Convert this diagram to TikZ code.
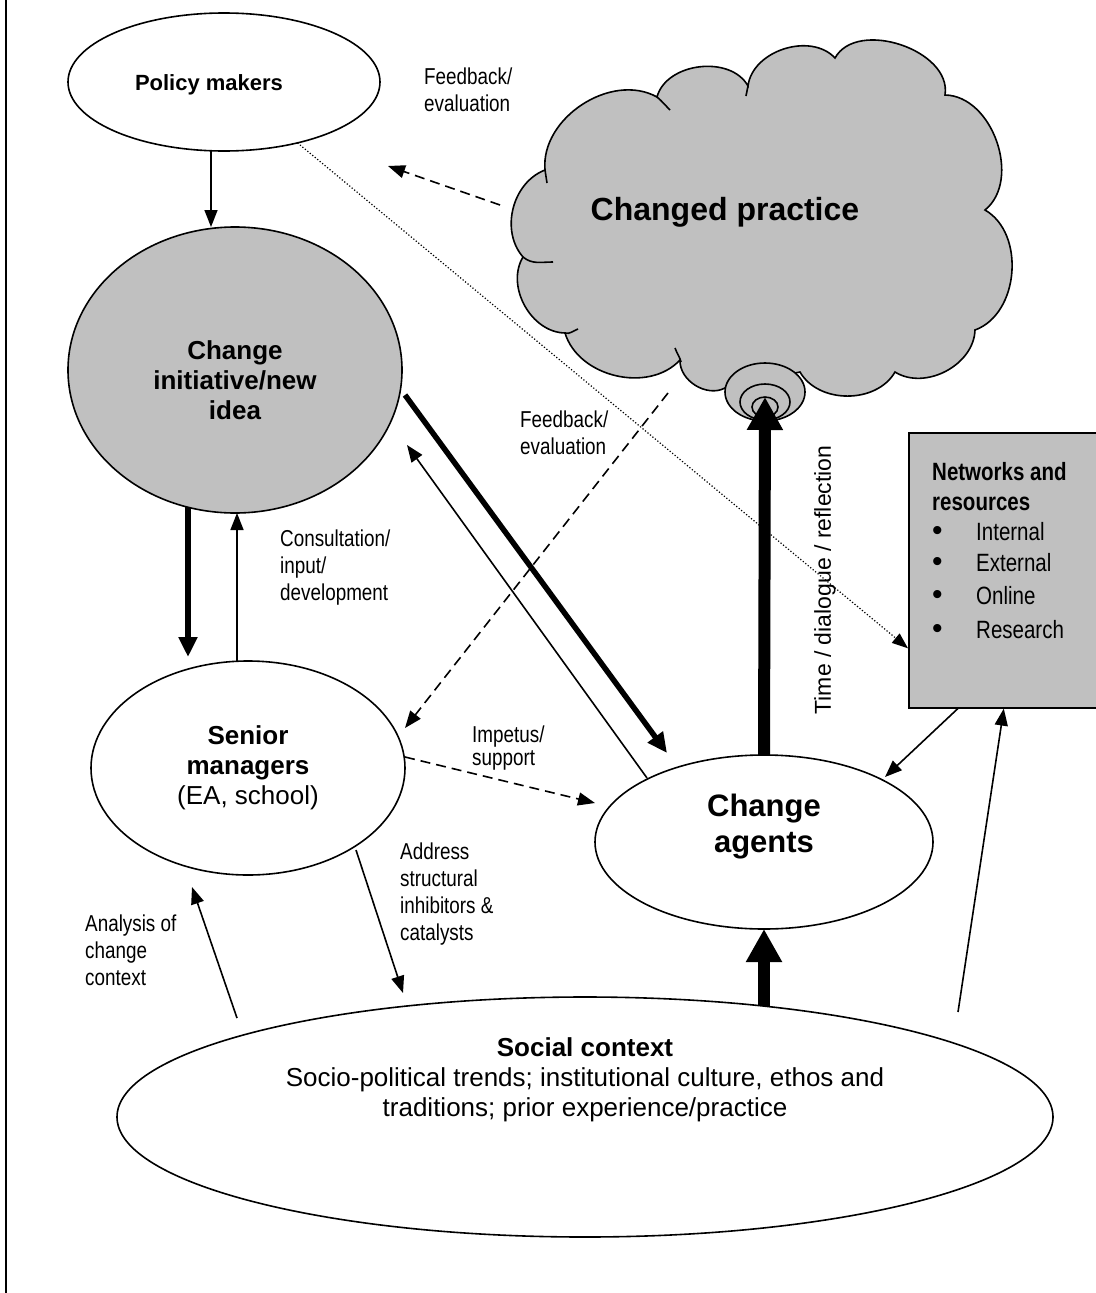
\documentclass[tikz,border=0pt]{standalone}
\usepackage{fontspec}
\setmainfont{Liberation Sans}
\newfontfamily\narrowfont[FakeStretch=0.82]{Liberation Sans}
\usetikzlibrary{shapes.geometric,arrows.meta,positioning}
\definecolor{shade}{RGB}{192,192,192}
\newcommand{\netitem}[1]{\makebox[44pt][l]{\normalfont\fontsize{30}{30}\selectfont\textbullet}#1}

\begin{document}
\begin{tikzpicture}[
x=1pt, y=-1pt,
oval/.style={draw, ellipse, line width=1.6pt, inner sep=0pt, outer sep=0pt},
bigtext/.style={font=\fontsize{26}{30}\selectfont\bfseries, align=center},
note/.style={font=\narrowfont\fontsize{23}{27}\selectfont, align=left, anchor=west, inner sep=0pt},
flow/.style={line width=1.6pt, -{Triangle[length=17pt,width=13pt]}},
heavy/.style={line width=5.5pt, -{Triangle[length=20pt,width=18pt]}},
fat/.style={line width=12pt, -{Triangle[length=33pt,width=34pt]}},
fb/.style={flow, dash pattern=on 10pt off 6pt},
link/.style={line width=1.2pt, dotted, -{Triangle[length=16pt,width=12pt]}}
]
\useasboundingbox (0,0) rectangle (1095,1293);
\draw[line width=2.8pt] (6,0) -- (6,1293);

% cloud
\filldraw[fill=shade, line width=1.6pt]
  (523,257) to[out=131,in=201] (545,170)
  to[out=95,in=151] (657,97)
  to[out=75,in=119] (748,86)
  to[out=83,in=133] (835,58)
  to[out=61,in=81] (945,95)
  to[out=-1,in=39] (985,210)
  to[out=-30,in=20] (975,330)
  to[out=268,in=328] (895,372)
  to[out=240,in=300] (800,372)
  -- (725,388)
  to[out=208,in=268] (680,360)
  to[out=227,in=287] (565,333)
  to[out=179,in=239] (523,257) -- cycle;
\draw[line width=1.6pt] (523,257) to[out=-40,in=180] (553,262);
\draw[line width=1.6pt] (565,333) to[out=-15,in=200] (578,329);
\draw[line width=1.6pt] (681,362) to[out=105,in=-70] (675,348);
\draw[line width=1.6pt] (545,170) -- (547,183);
\draw[line width=1.6pt] (657,97) to[out=-40,in=135] (670,110);
\draw[line width=1.6pt] (748,86) -- (746,96);
\filldraw[fill=shade, line width=1.6pt] (765,392) ellipse [x radius=40pt, y radius=29pt];
\draw[line width=1.6pt] (765,402) ellipse [x radius=25pt, y radius=18pt];
\draw[line width=1.6pt] (765,407) ellipse [x radius=13pt, y radius=10pt];
\node[font=\fontsize{32}{38}\selectfont\bfseries] (cpT) at (725,212) {Changed practice};
\coordinate (cpL) at (500,205);
\coordinate (cpS) at (668,393);
\coordinate (sp) at (765,397);

\node[oval, minimum width=312, minimum height=138] (pm) at (224,82) {};
\node[font=\fontsize{22}{26}\selectfont\bfseries] (pmT) at (209,85) {Policy makers};
\node[oval, fill=shade, minimum width=334, minimum height=286] (ci) at (235,370) {};
\node[bigtext] (ciT) at (235,380) {Change\\initiative/new\\idea};
\node[oval, minimum width=314, minimum height=214, align=center, font=\fontsize{26}{30}\selectfont] (sm) at (248,768) {\textbf{Senior}\\\textbf{managers}\\(EA, school)};
\node[oval, minimum width=338, minimum height=174] (ca) at (764,842) {};
\node[font=\fontsize{31}{36}\selectfont\bfseries, align=center] (caT) at (764,827) {Change\\agents};
\node[oval, minimum width=936, minimum height=240] (sc) at (585,1117) {};
\node[font=\fontsize{26}{30}\selectfont, align=center] (scT) at (585,1080) {\textbf{Social context}\\Socio-political trends; institutional culture, ethos and\\traditions; prior experience/practice};
\node[draw, fill=shade, line width=1.6pt, minimum width=200, minimum height=275, anchor=north west, inner sep=0pt] (net) at (908,432) {};
\node[font=\narrowfont\fontsize{25}{30}\selectfont, align=left, anchor=north west, inner sep=0pt] (netT) at (932,462) {\textbf{Networks and}\\\textbf{resources}\\\netitem{Internal}\\[1pt]\netitem{External}\\[3pt]\netitem{Online}\\[4pt]\netitem{Research}};
\node[rotate=90, font=\fontsize{23}{27}\selectfont] (tdr) at (825,580) {Time / dialogue / reflection};

\node[note] (fb1) at (424,90) {Feedback/\\evaluation};
\node[note] (fb2) at (520,433) {Feedback/\\evaluation};
\node[note] (cons) at (280,568) {Consultation/\\input/\\development};
\node[note, font=\narrowfont\fontsize{23}{23}\selectfont] (imp) at (472,748) {Impetus/\\support};
\node[note] (addr) at (400,894) {Address\\structural\\inhibitors \&\\catalysts};
\node[note] (anal) at (85,950) {Analysis of\\change\\context};

\draw[flow] ([xshift=-13pt]pm.south) -- ([xshift=-24pt]ci.north);
\draw[heavy] ([xshift=-47pt,yshift=6pt]ci.south) -- ([xshift=-60pt,yshift=4pt]sm.north);
\draw[flow] ([xshift=-11pt]sm.north) -- ([xshift=2pt]ci.south);
\draw[heavy] ([shift={(170,25)}]ci.center) -- ([shift={(-97,-89)}]ca.center);
\draw[flow] ([shift={(-117,-64)}]ca.center) -- ([shift={(172,75)}]ci.center);
\draw[fb] (cpS) -- ([shift={(157,-40)}]sm.center);
\draw[fb] (cpL) -- ([shift={(164,84)}]pm.center);
\draw[link] (pm) -- ([yshift=-78pt]net.west);
\draw[fb] ([yshift=11pt]sm.east) -- ([shift={(-169,-39)}]ca.center);
\draw[flow] ([shift={(108,82)}]sm.center) -- ([shift={(-182,-124)}]sc.center);
\draw[flow] ([shift={(-348,-99)}]sc.center) -- ([shift={(-56,119)}]sm.center);
\draw[fat] ([shift={(179,-111)}]sc.center) -- (ca.south);
\draw[fat] (ca.north) -- (sp);
\draw[flow] ([xshift=-51pt]net.south) -- ([shift={(121,-65)}]ca.center);
\draw[flow] ([shift={(373,-105)}]sc.center) -- ([xshift=-5pt]net.south);
\end{tikzpicture}
\end{document}
